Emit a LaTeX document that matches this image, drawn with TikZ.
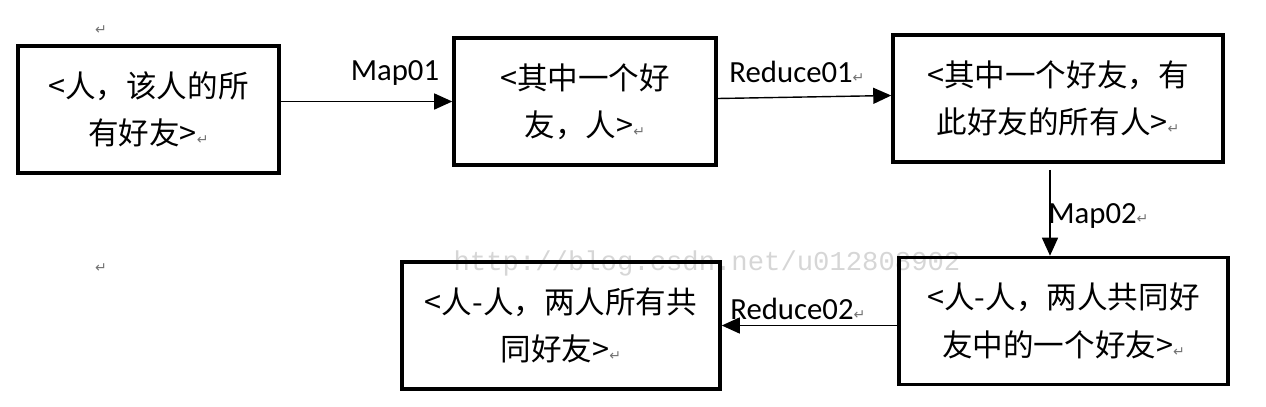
\documentclass[tikz,border=0pt]{standalone}
\usepackage{fontspec}
\setmainfont{Carlito}
\newfontfamily\cjk{Noto Sans CJK SC}
\newfontfamily\dvs{DejaVu Sans}
\newfontfamily\wmfont{Liberation Mono}
\usetikzlibrary{arrows.meta,calc}
\newcommand\pmk{{\dvs\fontsize{8}{8}\selectfont\color{black!55}↵}}
\begin{document}
\begin{tikzpicture}[x=0.2mm,y=-0.2mm,
  box/.style={draw=black,line width=2pt,minimum height=25.4mm,align=center,inner sep=0pt,
    font=\cjk\fontsize{17.4}{27}\selectfont},
  conn/.style={draw=black,line width=0.8pt,-{Triangle[length=3.6mm,width=3.2mm]}},
  lbl/.style={font=\fontsize{17.5}{20}\selectfont,inner sep=0pt},
  pmnode/.style={inner sep=0pt}]
\useasboundingbox (0,0) rectangle (1266,406);
% watermark
\node[font=\wmfont\fontsize{15.5}{16}\selectfont,text=black!16,inner sep=0pt] (wm) at (707,263) {http://blog.csdn.net/u012808902};
% boxes
\node[box,minimum width=52.2mm] (b1) at (148.5,109.5) {<人，该人的所\\有好友>\pmk};
\node[box,minimum width=52.4mm] (b2) at (585,101.5) {<其中一个好\\友，人>\pmk};
\node[box,minimum width=66mm] (b3) at (1058,98.5) {<其中一个好友，有\\此好友的所有人>\pmk};
\node[box,minimum width=65.8mm] (b4) at (1063.5,321) {<人-人，两人共同好\\友中的一个好友>\pmk};
\node[box,minimum width=63.6mm] (b5) at (561,325.5) {<人-人，两人所有共\\同好友>\pmk};
% stray paragraph marks
\node[pmnode] (p1) at (101,30) {\pmk};
\node[pmnode] (p2) at (101,268) {\pmk};
% connectors
\draw[conn] (b1.east |- b2.west) -- (b2.west);
\draw[conn] ([yshift=0.6mm]b2.east) -- ([yshift=0.6mm]b3.west);
\coordinate (m2s) at ([xshift=-1.6mm,yshift=-1.2mm]b3.south);
\draw[conn] (m2s) -- (m2s |- b4.north);
\draw[conn] (b4.west |- b5.east) -- (b5.east);
% labels
\node[lbl] (l1) at (395,73) {Map01};
\node[lbl] (l2) at (797,72) {Reduce01\pmk};
\node[lbl,anchor=west] (l3) at (1048,216) {Map02\pmk};
\node[lbl,anchor=west] (l4) at (730,309) {Reduce02\pmk};
\end{tikzpicture}
\end{document}
